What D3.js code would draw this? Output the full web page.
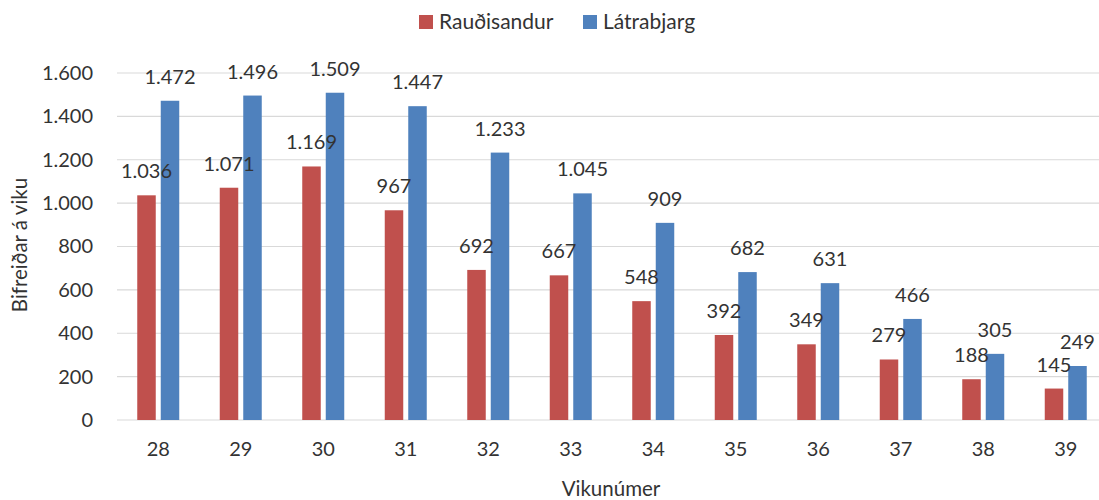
<!DOCTYPE html>
<html>
<head>
<meta charset="utf-8">
<script src="https://cdn.jsdelivr.net/npm/d3@7"></script>
<style>
  body { margin: 0; background: #fff; }
  text { font-family: Lato, "Open Sans", sans-serif; fill: #333; }
</style>
</head>
<body>
<div id="chart"></div>
<script>
// data
const weeks = ["28", "29", "30", "31", "32", "33", "34", "35", "36", "37", "38", "39"];
const raudisandur = [1036, 1071, 1169, 967, 692, 667, 548, 392, 349, 279, 188, 145];
const latrabjarg = [1472, 1496, 1509, 1447, 1233, 1045, 909, 682, 631, 466, 305, 249];
const seriesNames = ["Rauðisandur", "Látrabjarg"];
const yTicks = [0, 200, 400, 600, 800, 1000, 1200, 1400, 1600];

const colors = ["#C0504D", "#4F81BD"];
const width = 1099, height = 500;
const margin = { top: 73, right: -8, bottom: 80, left: 117 };

const locale = d3.formatLocale({ decimal: ",", thousands: ".", grouping: [3], currency: ["", " kr."] });
const fmt = locale.format(",d");

const svg = d3.select("#chart").append("svg")
  .attr("width", width)
  .attr("height", height);

const x = d3.scaleBand()
  .domain(weeks)
  .range([margin.left, width - margin.right]);

const y = d3.scaleLinear()
  .domain([0, 1600])
  .range([height - margin.bottom, margin.top]);

const barW = 18.5, gap = 5;

// grid lines
svg.append("g")
  .selectAll("line")
  .data(yTicks)
  .join("line")
  .attr("x1", margin.left)
  .attr("x2", width - margin.right)
  .attr("y1", d => y(d))
  .attr("y2", d => y(d))
  .attr("stroke", "#d9d9d9")
  .attr("stroke-width", 1.2);

// y axis
const yAxis = d3.axisLeft(y).tickValues(yTicks).tickFormat(fmt).tickSize(0).tickPadding(24);
svg.append("g")
  .attr("transform", `translate(${margin.left},0)`)
  .call(yAxis)
  .call(g => g.select(".domain").remove())
  .selectAll("text")
  .style("font-size", "20px")
  .attr("fill", "#2b2b2b");

// x axis
const xAxis = d3.axisBottom(x).tickSize(0).tickPadding(22);
svg.append("g")
  .attr("transform", `translate(0,${y(0)})`)
  .call(xAxis)
  .call(g => g.select(".domain").remove())
  .selectAll("text")
  .style("font-size", "20px")
  .attr("fill", "#2b2b2b");

const rows = weeks.map((w, i) => ({ week: w, vals: [raudisandur[i], latrabjarg[i]] }));

const groups = svg.append("g")
  .selectAll("g")
  .data(rows)
  .join("g")
  .attr("transform", d => `translate(${x(d.week) + x.bandwidth() / 2},0)`);

const offs = [-(gap / 2) - barW, gap / 2];

groups.selectAll("rect")
  .data(d => d.vals)
  .join("rect")
  .attr("x", (d, i) => offs[i])
  .attr("y", d => y(d))
  .attr("width", barW)
  .attr("height", d => y(0) - y(d))
  .attr("fill", (d, i) => colors[i]);

groups.selectAll("text.lbl")
  .data(d => d.vals)
  .join("text")
  .attr("class", "lbl")
  .attr("x", (d, i) => offs[i] + barW / 2)
  .attr("y", d => y(d) - 24)
  .attr("dy", "0.35em")
  .attr("text-anchor", "middle")
  .style("font-size", "20px")
  .attr("fill", "#222")
  .text(d => fmt(d));

// axis titles
svg.append("text")
  .attr("x", 611)
  .attr("y", 489)
  .attr("dy", "0.35em")
  .attr("text-anchor", "middle")
  .style("font-size", "20.5px")
  .text("Vikunúmer");

svg.append("text")
  .attr("transform", "translate(20,245) rotate(-90)")
  .attr("dy", "0.35em")
  .attr("text-anchor", "middle")
  .style("font-size", "20.5px")
  .text("Bifreiðar á viku");

// legend
const legendX = [419, 583];
const legend = svg.append("g")
  .selectAll("g")
  .data(seriesNames)
  .join("g")
  .attr("transform", (d, i) => `translate(${legendX[i]},22)`);

legend.append("rect")
  .attr("x", 0)
  .attr("y", -7)
  .attr("width", 14)
  .attr("height", 14)
  .attr("fill", (d, i) => colors[i]);

legend.append("text")
  .attr("x", 20)
  .attr("dy", "0.35em")
  .style("font-size", "21px")
  .text(d => d);
</script>
</body>
</html>
